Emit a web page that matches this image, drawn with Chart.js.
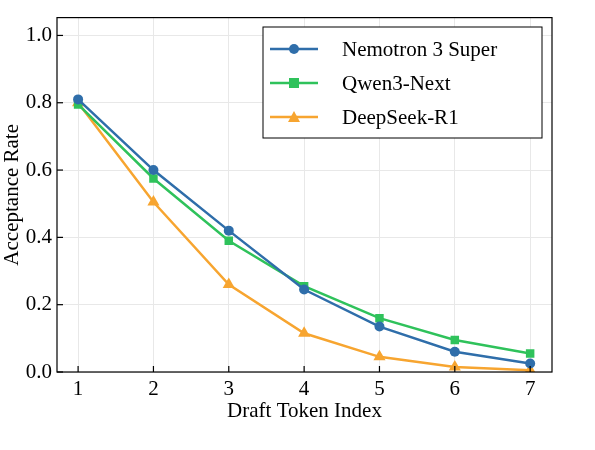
<!DOCTYPE html>
<html>
<head>
<meta charset="utf-8">
<script src="https://cdn.jsdelivr.net/npm/chart.js@4/dist/chart.umd.min.js"></script>
<style>
  html, body { margin: 0; padding: 0; background: #fff; }
  #wrap { width: 595px; height: 450px; }
</style>
</head>
<body>
<div id="wrap"><canvas id="chart" width="595" height="450"></canvas></div>
<script>
const tokenIndex = [1, 2, 3, 4, 5, 6, 7];
const nemotron = [0.81, 0.60, 0.42, 0.245, 0.135, 0.06, 0.025];
const qwen = [0.795, 0.575, 0.39, 0.255, 0.16, 0.095, 0.055];
const deepseek = [0.80, 0.505, 0.26, 0.115, 0.045, 0.015, 0.005];
const yTicks = [0, 0.2, 0.4, 0.6, 0.8, 1.0];

const FONT = "'Liberation Serif', 'DejaVu Serif', serif";

const series = [
    { label: 'Nemotron 3 Super', data: nemotron, color: '#2f6eaa', shape: 'circle', r: 5 },
    { label: 'Qwen3-Next', data: qwen, color: '#2fc25b', shape: 'rect', r: 6 },
    { label: 'DeepSeek-R1', data: deepseek, color: '#f7a530', shape: 'triangle', r: 7 }
];

// frame, inward ticks and the boxed legend inside the plot
const decorations = {
    id: 'decorations',
    afterDraw(chart) {
        const { ctx, chartArea: a, scales } = chart;
        ctx.save();
        ctx.strokeStyle = '#000';
        ctx.lineWidth = 1.2;
        ctx.strokeRect(a.left, a.top, a.right - a.left, a.bottom - a.top);
        tokenIndex.forEach(v => {
            const x = scales.x.getPixelForValue(v);
            ctx.beginPath(); ctx.moveTo(x, a.bottom); ctx.lineTo(x, a.bottom - 6); ctx.stroke();
        });
        yTicks.forEach(v => {
            const y = scales.y.getPixelForValue(v);
            ctx.beginPath(); ctx.moveTo(a.left, y); ctx.lineTo(a.left + 6, y); ctx.stroke();
        });

        // legend
        ctx.fillStyle = '#fff';
        ctx.strokeStyle = '#000';
        ctx.lineWidth = 1;
        ctx.fillRect(263, 27, 279, 111);
        ctx.strokeRect(263, 27, 279, 111);
        ctx.font = '21px ' + FONT;
        ctx.textBaseline = 'middle';
        series.forEach((s, i) => {
            const y = 49 + i * 34;
            ctx.strokeStyle = s.color;
            ctx.lineWidth = 2.5;
            ctx.beginPath(); ctx.moveTo(270, y); ctx.lineTo(318, y); ctx.stroke();
            ctx.fillStyle = s.color;
            ctx.beginPath();
            if (s.shape === 'circle') ctx.arc(294, y, 5, 0, Math.PI * 2);
            else if (s.shape === 'rect') ctx.rect(289, y - 5, 10, 10);
            else { ctx.moveTo(294, y - 6); ctx.lineTo(300, y + 5); ctx.lineTo(288, y + 5); ctx.closePath(); }
            ctx.fill();
            ctx.fillStyle = '#000';
            ctx.fillText(s.label, 342, y + 1);
        });
        ctx.restore();
    }
};

new Chart(document.getElementById('chart'), {
    type: 'line',
    data: {
        datasets: series.map(s => ({
            label: s.label,
            data: s.data.map((v, i) => ({ x: tokenIndex[i], y: v })),
            borderColor: s.color,
            backgroundColor: s.color,
            borderWidth: 2.5,
            pointStyle: s.shape,
            pointRadius: s.r,
            pointBorderWidth: 0,
            tension: 0
        }))
    },
    options: {
        responsive: false,
        animation: false,
        layout: { padding: { left: 0, top: 17, right: 43, bottom: 26 } },
        plugins: { legend: { display: false }, tooltip: { enabled: false } },
        scales: {
            x: {
                type: 'linear', min: 0.72, max: 7.29,
                afterBuildTicks: ax => { ax.ticks = tokenIndex.map(v => ({ value: v })); },
                afterFit: ax => { ax.height = 52; },
                grid: { color: '#e8e8e8', drawTicks: false },
                border: { display: false },
                ticks: { color: '#000', padding: 5, font: { family: FONT, size: 21 } },
                title: { display: true, text: 'Draft Token Index', color: '#000', padding: 0,
                         font: { family: FONT, size: 21 } }
            },
            y: {
                min: 0, max: 1.053,
                afterBuildTicks: ax => { ax.ticks = yTicks.map(v => ({ value: v })); },
                afterFit: ax => { ax.width = 57; },
                grid: { color: '#e8e8e8', drawTicks: false },
                border: { display: false },
                ticks: { color: '#000', padding: 5, font: { family: FONT, size: 21 },
                         callback: v => v.toFixed(1) },
                title: { display: true, text: 'Acceptance Rate', color: '#000', padding: 0,
                         font: { family: FONT, size: 21 } }
            }
        }
    },
    plugins: [decorations]
});
</script>
</body>
</html>
